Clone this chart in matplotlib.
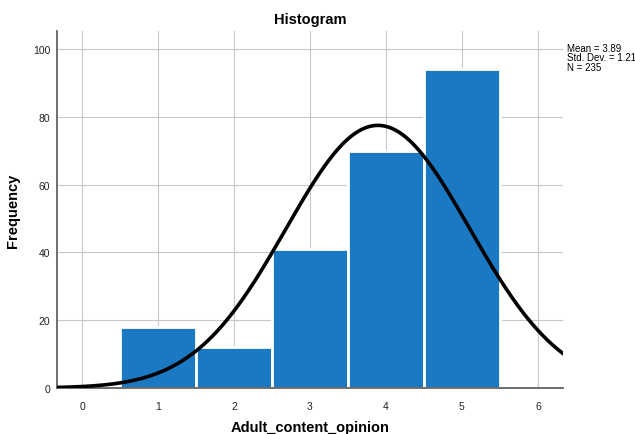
import numpy as np
import matplotlib
matplotlib.use("Agg")
import matplotlib.pyplot as plt

plt.rcParams['font.family'] = ['Liberation Sans', 'DejaVu Sans']

# histogram bins (Adult_content_opinion) and counts
values = [1, 2, 3, 4, 5]
counts = [18, 12, 41, 70, 94]
xticks = [0, 1, 2, 3, 4, 5, 6]
yticks = [0, 20, 40, 60, 80, 100]

n = sum(counts)
mean = np.dot(values, counts) / n
std = np.sqrt(np.dot(counts, (np.array(values) - mean) ** 2) / (n - 1))

fig = plt.figure(figsize=(6.35, 4.35), dpi=100)
ax = fig.add_axes([0.0898, 0.1057, 0.7968, 0.8203])

ax.bar(values, counts, width=1.0, color='#1b78c2', edgecolor='white', linewidth=2, zorder=2)

# normal curve scaled to counts
xs = np.linspace(-0.33, 6.33, 300)
ys = n * np.exp(-0.5 * ((xs - mean) / std) ** 2) / (std * np.sqrt(2 * np.pi))
ax.plot(xs, ys, color='black', linewidth=2.6, zorder=3)

ax.set_xlim(-0.33, 6.33)
ax.set_ylim(0, 105.3)
ax.set_xticks(xticks)
ax.set_yticks(yticks)
ax.tick_params(length=0, labelsize=7.5, colors='#222222')
ax.tick_params(axis='x', pad=9)
ax.tick_params(axis='y', pad=5)
ax.grid(True, color='#c8c8c8', linewidth=0.8, zorder=0)
ax.set_axisbelow(True)
for s in ['top', 'right']:
    ax.spines[s].set_visible(False)
for s in ['left', 'bottom']:
    ax.spines[s].set_color('#555555')
    ax.spines[s].set_linewidth(1.2)

ax.set_title('Histogram', fontsize=10.5, fontweight='bold', pad=6)
ax.set_xlabel('Adult_content_opinion', fontsize=10.5, fontweight='bold', labelpad=7)
ax.set_ylabel('Frequency', fontsize=10.5, fontweight='bold', labelpad=9)

fig.text(0.893, 0.9, 'Mean = %.2f\nStd. Dev. = %.2f\nN = %d' % (mean, std, n),
         fontsize=7, va='top', ha='left', linespacing=0.95)

fig.savefig('out.png', dpi=100)
